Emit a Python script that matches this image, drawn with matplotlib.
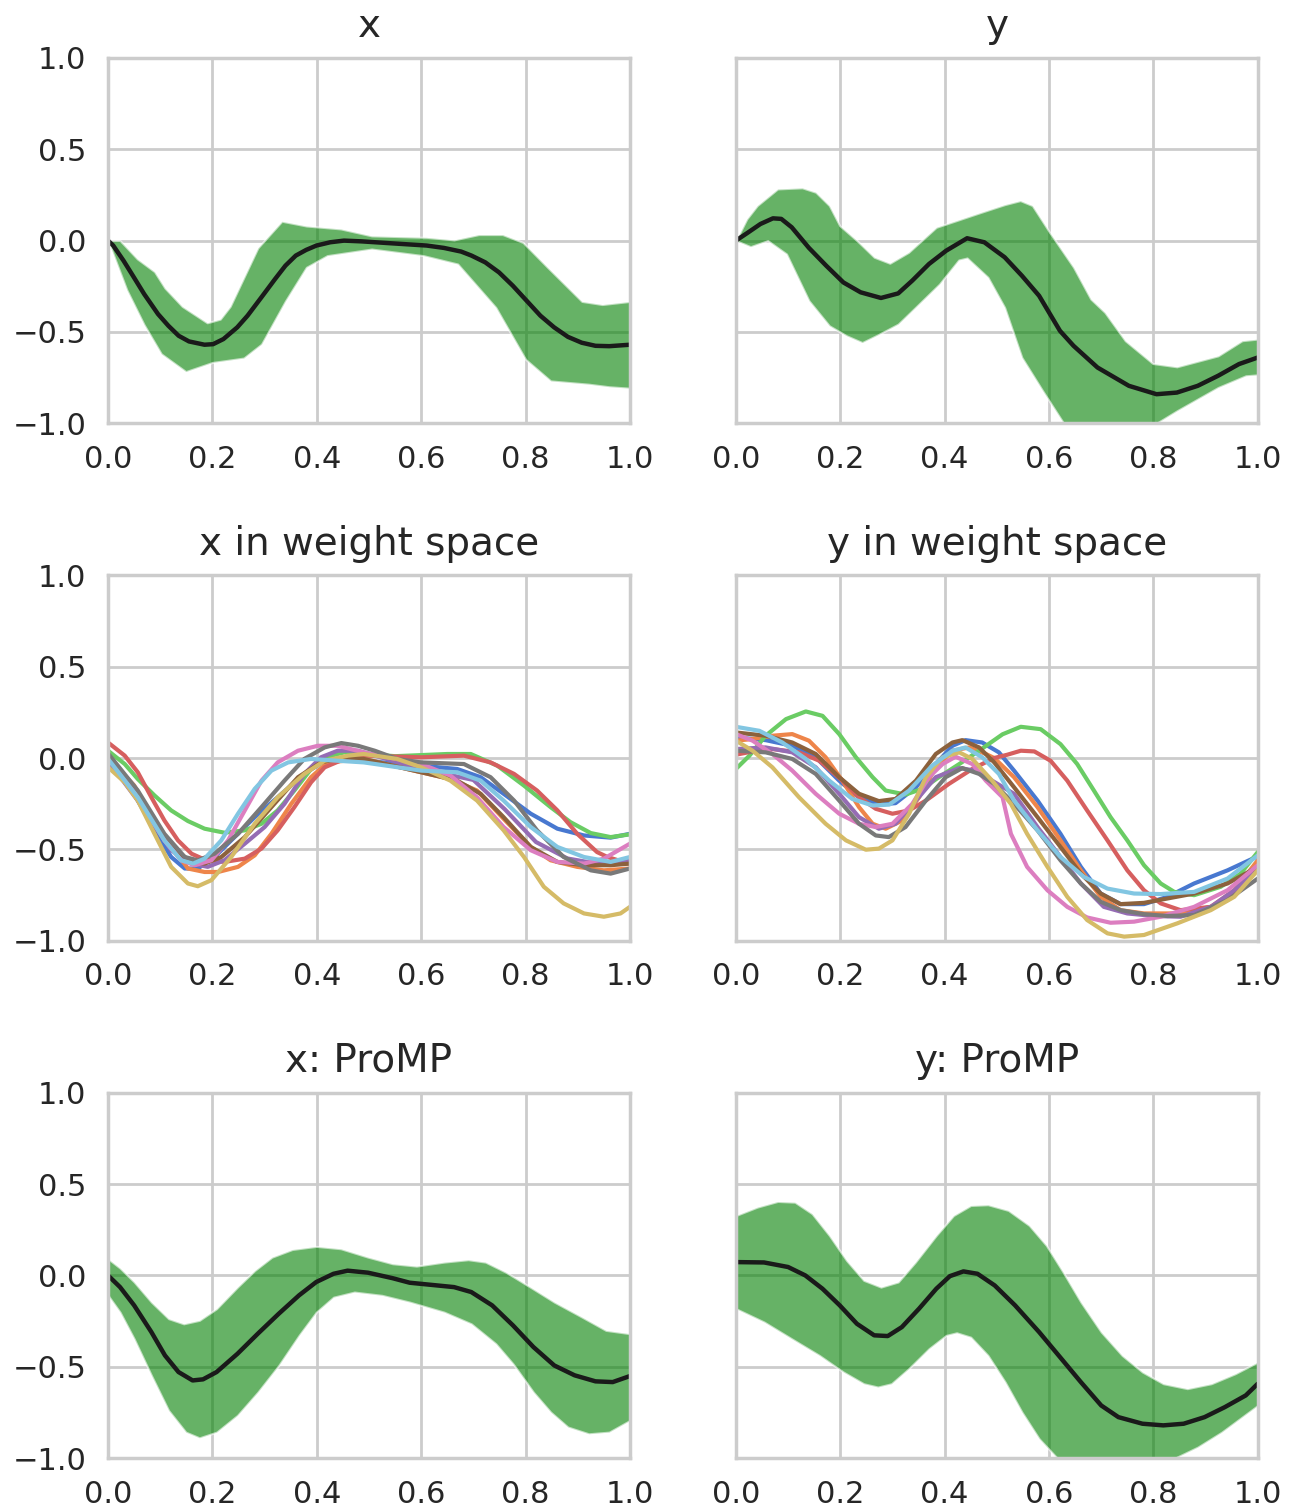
import numpy as np
import matplotlib
matplotlib.use("Agg")
import matplotlib.pyplot as plt
import seaborn as sns

# ---------------- data ----------------
# top-left: x demonstrations, mean and band
x_mean_t = [0, 0.0099, 0.0297, 0.0495, 0.0693, 0.0957, 0.1155, 0.1353, 0.1551, 0.1848, 0.2013, 0.2211, 0.2475, 0.2673, 0.2937, 0.3201, 0.3399, 0.3597, 0.3795, 0.3993, 0.4257, 0.4521, 0.4851, 0.5446, 0.6106, 0.6436, 0.6766, 0.6964, 0.7228, 0.7492, 0.7756, 0.802, 0.8284, 0.8548, 0.8812, 0.9076, 0.934, 0.9604, 1.0]
x_mean_v = [0, -0.027, -0.110, -0.201, -0.293, -0.402, -0.466, -0.521, -0.552, -0.570, -0.567, -0.539, -0.475, -0.411, -0.311, -0.210, -0.137, -0.082, -0.051, -0.027, -0.009, 0.0, -0.004, -0.015, -0.027, -0.040, -0.060, -0.082, -0.119, -0.174, -0.247, -0.329, -0.411, -0.475, -0.527, -0.559, -0.576, -0.578, -0.570]
x_up_t = [0, 0.023, 0.056, 0.089, 0.109, 0.142, 0.19, 0.215, 0.234, 0.287, 0.333, 0.38, 0.446, 0.505, 0.61, 0.663, 0.71, 0.756, 0.795, 0.842, 0.908, 0.947, 1.0]
x_up_v = [0, 0.0, -0.10, -0.17, -0.26, -0.36, -0.45, -0.43, -0.36, -0.04, 0.106, 0.08, 0.064, 0.026, 0.018, 0.004, 0.033, 0.033, -0.01, -0.146, -0.333, -0.35, -0.333]
x_lo_t = [0, 0.036, 0.069, 0.102, 0.149, 0.20, 0.26, 0.294, 0.34, 0.38, 0.42, 0.505, 0.604, 0.67, 0.743, 0.80, 0.848, 0.921, 0.96, 1.0]
x_lo_v = [0, -0.27, -0.46, -0.62, -0.717, -0.667, -0.643, -0.567, -0.33, -0.146, -0.082, -0.046, -0.082, -0.128, -0.366, -0.65, -0.768, -0.786, -0.80, -0.808]

# top-right: y demonstrations, mean and band
y_mean_t = [0, 0.021, 0.047, 0.071, 0.087, 0.107, 0.14, 0.173, 0.206, 0.239, 0.278, 0.311, 0.338, 0.37, 0.403, 0.443, 0.476, 0.515, 0.548, 0.581, 0.621, 0.647, 0.693, 0.753, 0.806, 0.845, 0.885, 0.924, 0.964, 1.0]
y_mean_v = [0, 0.04, 0.091, 0.122, 0.119, 0.073, -0.04, -0.137, -0.229, -0.283, -0.314, -0.289, -0.219, -0.128, -0.055, 0.013, -0.009, -0.091, -0.192, -0.302, -0.494, -0.576, -0.695, -0.795, -0.841, -0.832, -0.795, -0.74, -0.676, -0.64]
y_up_t = [0, 0.021, 0.041, 0.08, 0.127, 0.153, 0.179, 0.199, 0.232, 0.265, 0.295, 0.331, 0.384, 0.423, 0.47, 0.515, 0.545, 0.568, 0.601, 0.647, 0.68, 0.707, 0.746, 0.799, 0.845, 0.924, 0.97, 1.0]
y_up_v = [0, 0.119, 0.192, 0.283, 0.289, 0.265, 0.192, 0.082, 0.0, -0.091, -0.124, -0.064, 0.073, 0.11, 0.155, 0.197, 0.219, 0.192, 0.046, -0.146, -0.32, -0.393, -0.548, -0.673, -0.691, -0.631, -0.548, -0.539]
y_lo_t = [0, 0.028, 0.061, 0.097, 0.14, 0.179, 0.212, 0.242, 0.272, 0.311, 0.344, 0.39, 0.427, 0.443, 0.483, 0.515, 0.548, 0.588, 0.628, 0.68, 0.75, 0.806, 0.845, 0.924, 0.977, 1.0]
y_lo_v = [0, -0.033, 0.0, -0.073, -0.329, -0.466, -0.521, -0.558, -0.516, -0.457, -0.366, -0.238, -0.106, -0.095, -0.201, -0.366, -0.64, -0.823, -1.0, -1.08, -1.06, -1.0, -0.932, -0.804, -0.74, -0.735]

# middle-left: x in weight space, one curve per demonstration
xw_t = {
    "blue":   [0, 0.032, 0.057, 0.089, 0.121, 0.147, 0.172, 0.204, 0.236, 0.281, 0.325, 0.376, 0.415, 0.453, 0.49, 0.6, 0.669, 0.714, 0.758, 0.81, 0.861, 0.912, 0.963, 1.0],
    "orange": [0, 0.05, 0.10, 0.153, 0.185, 0.211, 0.249, 0.281, 0.313, 0.351, 0.389, 0.421, 0.49, 0.6, 0.656, 0.707, 0.758, 0.81, 0.848, 0.899, 0.95, 1.0],
    "green":  [0, 0.032, 0.057, 0.089, 0.121, 0.153, 0.185, 0.223, 0.262, 0.294, 0.325, 0.357, 0.389, 0.415, 0.453, 0.55, 0.65, 0.695, 0.746, 0.797, 0.848, 0.886, 0.925, 0.963, 1.0],
    "red":    [0, 0.032, 0.057, 0.083, 0.108, 0.134, 0.16, 0.185, 0.223, 0.262, 0.294, 0.325, 0.357, 0.389, 0.415, 0.453, 0.491, 0.6, 0.682, 0.733, 0.778, 0.822, 0.861, 0.899, 0.937, 0.957, 1.0],
    "purple": [0, 0.057, 0.121, 0.16, 0.191, 0.223, 0.262, 0.30, 0.338, 0.376, 0.408, 0.44, 0.479, 0.6, 0.7, 0.76, 0.82, 0.88, 0.94, 1.0],
    "brown":  [0, 0.057, 0.121, 0.16, 0.185, 0.217, 0.262, 0.313, 0.364, 0.408, 0.453, 0.49, 0.6, 0.669, 0.714, 0.758, 0.81, 0.861, 0.912, 0.963, 1.0],
    "pink":   [0, 0.057, 0.108, 0.14, 0.166, 0.198, 0.23, 0.262, 0.294, 0.325, 0.364, 0.402, 0.44, 0.49, 0.6, 0.656, 0.707, 0.758, 0.81, 0.861, 0.912, 0.95, 1.0],
    "gray":   [0, 0.057, 0.108, 0.147, 0.172, 0.204, 0.249, 0.294, 0.338, 0.376, 0.415, 0.447, 0.479, 0.511, 0.554, 0.6, 0.682, 0.733, 0.778, 0.822, 0.873, 0.925, 0.963, 1.0],
    "olive":  [0, 0.032, 0.057, 0.089, 0.121, 0.153, 0.172, 0.198, 0.236, 0.281, 0.325, 0.376, 0.415, 0.46, 0.49, 0.554, 0.6, 0.656, 0.707, 0.758, 0.797, 0.835, 0.873, 0.912, 0.95, 0.982, 1.0],
    "cyan":   [0, 0.057, 0.108, 0.14, 0.163, 0.185, 0.217, 0.249, 0.281, 0.313, 0.345, 0.389, 0.44, 0.49, 0.6, 0.669, 0.714, 0.758, 0.81, 0.861, 0.912, 0.963, 1.0],
}
xw_v = {
    "blue":   [0.004, -0.105, -0.233, -0.396, -0.542, -0.605, -0.605, -0.542, -0.451, -0.324, -0.215, -0.087, -0.015, 0.004, -0.015, -0.042, -0.06, -0.105, -0.196, -0.305, -0.387, -0.424, -0.436, -0.415],
    "orange": [0.0, -0.15, -0.40, -0.605, -0.624, -0.624, -0.596, -0.533, -0.415, -0.251, -0.105, -0.024, -0.005, -0.078, -0.115, -0.178, -0.333, -0.487, -0.56, -0.596, -0.615, -0.605],
    "green":  [0.04, -0.033, -0.115, -0.205, -0.287, -0.345, -0.387, -0.409, -0.396, -0.36, -0.287, -0.178, -0.06, 0.004, 0.031, 0.01, 0.022, 0.022, -0.042, -0.151, -0.269, -0.351, -0.411, -0.433, -0.418],
    "red":    [0.085, 0.013, -0.078, -0.215, -0.342, -0.451, -0.524, -0.556, -0.569, -0.551, -0.496, -0.396, -0.269, -0.133, -0.051, -0.005, 0.013, 0.004, 0.013, -0.024, -0.087, -0.178, -0.287, -0.415, -0.515, -0.542, -0.58],
    "purple": [-0.015, -0.233, -0.505, -0.578, -0.596, -0.56, -0.469, -0.378, -0.251, -0.087, 0.004, 0.04, 0.04, -0.06, -0.12, -0.28, -0.46, -0.55, -0.58, -0.56],
    "brown":  [0.02, -0.215, -0.487, -0.569, -0.578, -0.542, -0.433, -0.269, -0.105, -0.024, 0.004, -0.005, -0.078, -0.124, -0.196, -0.324, -0.487, -0.569, -0.587, -0.587, -0.578],
    "pink":   [0.013, -0.215, -0.451, -0.56, -0.587, -0.56, -0.451, -0.287, -0.124, -0.024, 0.04, 0.067, 0.067, 0.031, -0.033, -0.096, -0.215, -0.378, -0.505, -0.569, -0.578, -0.551, -0.469],
    "gray":   [0.025, -0.178, -0.415, -0.542, -0.56, -0.524, -0.415, -0.269, -0.124, -0.005, 0.058, 0.082, 0.067, 0.04, -0.005, -0.024, -0.033, -0.105, -0.233, -0.396, -0.542, -0.615, -0.633, -0.605],
    "olive":  [-0.05, -0.133, -0.233, -0.415, -0.596, -0.687, -0.702, -0.669, -0.542, -0.36, -0.215, -0.087, -0.015, 0.013, 0.022, -0.005, -0.051, -0.124, -0.233, -0.396, -0.542, -0.705, -0.796, -0.851, -0.869, -0.851, -0.815],
    "cyan":   [-0.005, -0.215, -0.451, -0.56, -0.578, -0.551, -0.451, -0.305, -0.169, -0.069, -0.024, -0.005, -0.015, -0.024, -0.069, -0.078, -0.124, -0.233, -0.378, -0.487, -0.542, -0.569, -0.542],
}

# middle-right: y in weight space
yw_t = {
    "blue":   [0, 0.057, 0.108, 0.153, 0.198, 0.236, 0.274, 0.306, 0.345, 0.383, 0.415, 0.44, 0.472, 0.504, 0.533, 0.578, 0.622, 0.661, 0.699, 0.737, 0.782, 0.827, 0.878, 0.942, 1.0],
    "orange": [0, 0.032, 0.07, 0.108, 0.14, 0.172, 0.204, 0.236, 0.262, 0.287, 0.319, 0.351, 0.383, 0.415, 0.447, 0.479, 0.495, 0.533, 0.578, 0.622, 0.661, 0.699, 0.737, 0.782, 0.846, 0.91, 0.955, 1.0],
    "green":  [0, 0.026, 0.057, 0.096, 0.134, 0.166, 0.198, 0.23, 0.262, 0.287, 0.325, 0.357, 0.389, 0.428, 0.466, 0.511, 0.546, 0.584, 0.622, 0.654, 0.686, 0.718, 0.75, 0.782, 0.814, 0.84, 0.878, 0.929, 0.967, 1.0],
    "red":    [0, 0.032, 0.07, 0.121, 0.16, 0.204, 0.236, 0.268, 0.30, 0.332, 0.364, 0.408, 0.453, 0.495, 0.52, 0.546, 0.572, 0.603, 0.635, 0.673, 0.712, 0.75, 0.782, 0.814, 0.852, 0.91, 0.955, 1.0],
    "purple": [0, 0.057, 0.108, 0.153, 0.198, 0.236, 0.274, 0.306, 0.345, 0.383, 0.428, 0.459, 0.491, 0.533, 0.578, 0.622, 0.661, 0.705, 0.75, 0.801, 0.852, 0.91, 0.955, 1.0],
    "brown":  [0, 0.057, 0.108, 0.153, 0.198, 0.236, 0.274, 0.306, 0.345, 0.383, 0.415, 0.434, 0.466, 0.495, 0.533, 0.578, 0.622, 0.661, 0.699, 0.737, 0.782, 0.827, 0.878, 0.942, 1.0],
    "pink":   [0, 0.032, 0.07, 0.108, 0.153, 0.198, 0.236, 0.268, 0.30, 0.338, 0.37, 0.396, 0.421, 0.453, 0.479, 0.511, 0.527, 0.558, 0.597, 0.635, 0.673, 0.718, 0.763, 0.814, 0.878, 0.942, 1.0],
    "gray":   [0, 0.057, 0.108, 0.153, 0.198, 0.236, 0.268, 0.293, 0.325, 0.364, 0.402, 0.434, 0.466, 0.495, 0.533, 0.578, 0.622, 0.661, 0.699, 0.737, 0.782, 0.827, 0.878, 0.942, 1.0],
    "olive":  [0, 0.032, 0.07, 0.121, 0.172, 0.211, 0.249, 0.274, 0.30, 0.332, 0.364, 0.396, 0.428, 0.453, 0.491, 0.527, 0.558, 0.597, 0.635, 0.673, 0.712, 0.744, 0.782, 0.846, 0.91, 0.955, 1.0],
    "cyan":   [0, 0.045, 0.089, 0.134, 0.179, 0.223, 0.262, 0.294, 0.332, 0.376, 0.415, 0.44, 0.472, 0.504, 0.533, 0.578, 0.622, 0.667, 0.712, 0.763, 0.814, 0.878, 0.942, 1.0],
}
yw_v = {
    "blue":   [0.113, 0.098, 0.067, 0.004, -0.124, -0.215, -0.255, -0.247, -0.16, -0.033, 0.067, 0.098, 0.085, 0.031, -0.069, -0.233, -0.415, -0.596, -0.742, -0.80, -0.80, -0.76, -0.687, -0.615, -0.538],
    "orange": [0.095, 0.104, 0.122, 0.131, 0.095, 0.004, -0.124, -0.269, -0.36, -0.387, -0.342, -0.215, -0.051, 0.04, 0.058, 0.022, 0.0, -0.105, -0.269, -0.451, -0.615, -0.76, -0.833, -0.851, -0.851, -0.815, -0.724, -0.56],
    "green":  [-0.06, 0.013, 0.122, 0.213, 0.255, 0.231, 0.131, 0.004, -0.105, -0.178, -0.20, -0.169, -0.105, -0.033, 0.04, 0.13, 0.171, 0.158, 0.076, -0.033, -0.178, -0.324, -0.451, -0.587, -0.687, -0.733, -0.751, -0.705, -0.633, -0.515],
    "red":    [0.018, 0.036, 0.049, 0.031, -0.015, -0.124, -0.215, -0.278, -0.305, -0.287, -0.233, -0.142, -0.06, 0.0, 0.018, 0.04, 0.036, -0.015, -0.124, -0.287, -0.451, -0.615, -0.724, -0.796, -0.833, -0.815, -0.742, -0.596],
    "purple": [0.049, 0.058, 0.031, -0.051, -0.196, -0.324, -0.387, -0.36, -0.233, -0.105, -0.055, -0.069, -0.124, -0.196, -0.378, -0.542, -0.687, -0.815, -0.851, -0.865, -0.869, -0.815, -0.724, -0.596],
    "brown":  [0.14, 0.122, 0.085, 0.022, -0.105, -0.196, -0.236, -0.224, -0.124, 0.022, 0.085, 0.098, 0.058, -0.024, -0.16, -0.324, -0.487, -0.633, -0.742, -0.80, -0.793, -0.769, -0.742, -0.687, -0.596],
    "pink":   [0.131, 0.095, 0.022, -0.069, -0.196, -0.305, -0.36, -0.378, -0.36, -0.251, -0.105, -0.033, 0.007, -0.033, -0.124, -0.215, -0.415, -0.596, -0.724, -0.815, -0.873, -0.902, -0.896, -0.869, -0.815, -0.724, -0.587],
    "gray":   [0.04, 0.031, -0.005, -0.087, -0.233, -0.36, -0.424, -0.433, -0.378, -0.233, -0.105, -0.055, -0.087, -0.142, -0.251, -0.396, -0.56, -0.687, -0.787, -0.833, -0.855, -0.865, -0.86, -0.778, -0.66],
    "olive":  [0.095, 0.04, -0.051, -0.215, -0.36, -0.451, -0.502, -0.496, -0.451, -0.305, -0.105, 0.004, 0.031, -0.005, -0.124, -0.251, -0.415, -0.596, -0.76, -0.887, -0.96, -0.978, -0.969, -0.905, -0.833, -0.76, -0.615],
    "cyan":   [0.171, 0.149, 0.085, -0.005, -0.124, -0.224, -0.26, -0.255, -0.178, -0.042, 0.04, 0.058, 0.004, -0.087, -0.233, -0.396, -0.542, -0.651, -0.715, -0.742, -0.745, -0.733, -0.66, -0.533],
}

# bottom-left: x ProMP
xp_mean_t = [0, 0.023, 0.05, 0.083, 0.109, 0.135, 0.162, 0.182, 0.208, 0.248, 0.287, 0.327, 0.366, 0.399, 0.432, 0.459, 0.498, 0.545, 0.578, 0.617, 0.663, 0.696, 0.736, 0.776, 0.815, 0.855, 0.894, 0.934, 0.967, 1.0]
xp_mean_v = [0, -0.064, -0.164, -0.31, -0.438, -0.529, -0.575, -0.569, -0.529, -0.429, -0.319, -0.21, -0.109, -0.036, 0.009, 0.026, 0.015, -0.015, -0.04, -0.051, -0.064, -0.091, -0.164, -0.274, -0.392, -0.493, -0.547, -0.58, -0.584, -0.551]
xp_up_t = [0, 0.023, 0.05, 0.083, 0.116, 0.145, 0.175, 0.208, 0.248, 0.281, 0.314, 0.353, 0.399, 0.446, 0.498, 0.545, 0.591, 0.644, 0.69, 0.723, 0.762, 0.809, 0.855, 0.908, 0.954, 1.0]
xp_up_v = [0.091, 0.04, -0.036, -0.146, -0.237, -0.265, -0.246, -0.182, -0.064, 0.027, 0.1, 0.142, 0.159, 0.146, 0.1, 0.064, 0.051, 0.073, 0.086, 0.073, 0.018, -0.064, -0.146, -0.228, -0.301, -0.319]
xp_lo_t = [0, 0.023, 0.05, 0.083, 0.116, 0.149, 0.175, 0.208, 0.248, 0.287, 0.327, 0.366, 0.399, 0.432, 0.472, 0.525, 0.578, 0.644, 0.696, 0.743, 0.776, 0.815, 0.848, 0.881, 0.921, 0.96, 1.0]
xp_lo_v = [-0.109, -0.201, -0.347, -0.547, -0.739, -0.858, -0.889, -0.858, -0.766, -0.639, -0.493, -0.328, -0.201, -0.119, -0.091, -0.109, -0.146, -0.201, -0.265, -0.374, -0.484, -0.639, -0.748, -0.83, -0.867, -0.858, -0.794]

# bottom-right: y ProMP
yp_mean_t = [0, 0.054, 0.1, 0.133, 0.166, 0.199, 0.232, 0.265, 0.291, 0.318, 0.351, 0.384, 0.41, 0.436, 0.463, 0.496, 0.535, 0.581, 0.621, 0.661, 0.70, 0.733, 0.779, 0.819, 0.858, 0.898, 0.937, 0.977, 1.0]
yp_mean_v = [0.073, 0.071, 0.046, 0.0, -0.073, -0.164, -0.265, -0.328, -0.332, -0.283, -0.182, -0.073, -0.004, 0.022, 0.009, -0.055, -0.164, -0.31, -0.447, -0.584, -0.712, -0.776, -0.812, -0.821, -0.812, -0.776, -0.721, -0.657, -0.593]
yp_up_t = [0, 0.041, 0.08, 0.113, 0.146, 0.179, 0.212, 0.245, 0.278, 0.311, 0.344, 0.384, 0.417, 0.45, 0.483, 0.522, 0.562, 0.595, 0.627, 0.661, 0.70, 0.74, 0.779, 0.819, 0.865, 0.911, 0.957, 1.0]
yp_up_v = [0.328, 0.374, 0.405, 0.401, 0.338, 0.219, 0.082, -0.027, -0.064, -0.036, 0.073, 0.219, 0.328, 0.383, 0.387, 0.356, 0.274, 0.164, 0.018, -0.146, -0.31, -0.438, -0.529, -0.593, -0.62, -0.593, -0.538, -0.474]
yp_lo_t = [0, 0.054, 0.107, 0.16, 0.206, 0.245, 0.272, 0.298, 0.331, 0.37, 0.403, 0.423, 0.45, 0.483, 0.516, 0.548, 0.581, 0.614, 0.68, 0.75, 0.80, 0.845, 0.885, 0.931, 1.0]
yp_lo_v = [-0.182, -0.255, -0.347, -0.438, -0.529, -0.593, -0.611, -0.593, -0.511, -0.401, -0.328, -0.314, -0.338, -0.438, -0.584, -0.748, -0.894, -0.995, -1.15, -1.18, -1.10, -0.995, -0.94, -0.858, -0.712]

titles = ["x", "y", "x in weight space", "y in weight space", "x: ProMP", "y: ProMP"]
x_ticks = [0.0, 0.2, 0.4, 0.6, 0.8, 1.0]
y_ticks = [-1.0, -0.5, 0.0, 0.5, 1.0]
curve_names = ["blue", "orange", "green", "red", "purple", "brown", "pink", "gray", "olive", "cyan"]

# ---------------- plotting ----------------
sns.set_theme(style="whitegrid", context="poster")
palette = dict(zip(curve_names, sns.color_palette("muted", 10)))

fig, axes = plt.subplots(3, 2, figsize=(12.94, 15.10), dpi=100, sharey=True)
fig.subplots_adjust(left=0.0835, right=0.972, top=0.9616, bottom=0.0344,
                    wspace=0.203, hspace=0.4165)


def band(ax, mt, mv, ut, uv, lt, lv):
    grid = np.union1d(np.union1d(ut, lt), mt)
    upper = np.interp(grid, ut, uv)
    lower = np.interp(grid, lt, lv)
    ax.fill_between(grid, lower, upper, facecolor="green", edgecolor="white",
                    linewidth=1.5, alpha=0.6)
    ax.plot(mt, mv, color="k", linewidth=3.2)


band(axes[0, 0], x_mean_t, x_mean_v, x_up_t, x_up_v, x_lo_t, x_lo_v)
band(axes[0, 1], y_mean_t, y_mean_v, y_up_t, y_up_v, y_lo_t, y_lo_v)
for name in curve_names:
    axes[1, 0].plot(xw_t[name], xw_v[name], color=palette[name])
    axes[1, 1].plot(yw_t[name], yw_v[name], color=palette[name])
band(axes[2, 0], xp_mean_t, xp_mean_v, xp_up_t, xp_up_v, xp_lo_t, xp_lo_v)
band(axes[2, 1], yp_mean_t, yp_mean_v, yp_up_t, yp_up_v, yp_lo_t, yp_lo_v)

for ax, title in zip(axes.flat, titles):
    ax.set_title(title, fontsize=28, pad=15)
    ax.set_xlim(0, 1)
    ax.set_ylim(-1, 1)
    ax.set_xticks(x_ticks)
    ax.set_yticks(y_ticks)
for ax in axes[:, 1]:
    ax.tick_params(labelleft=False)

fig.savefig("out.png", dpi=100)
